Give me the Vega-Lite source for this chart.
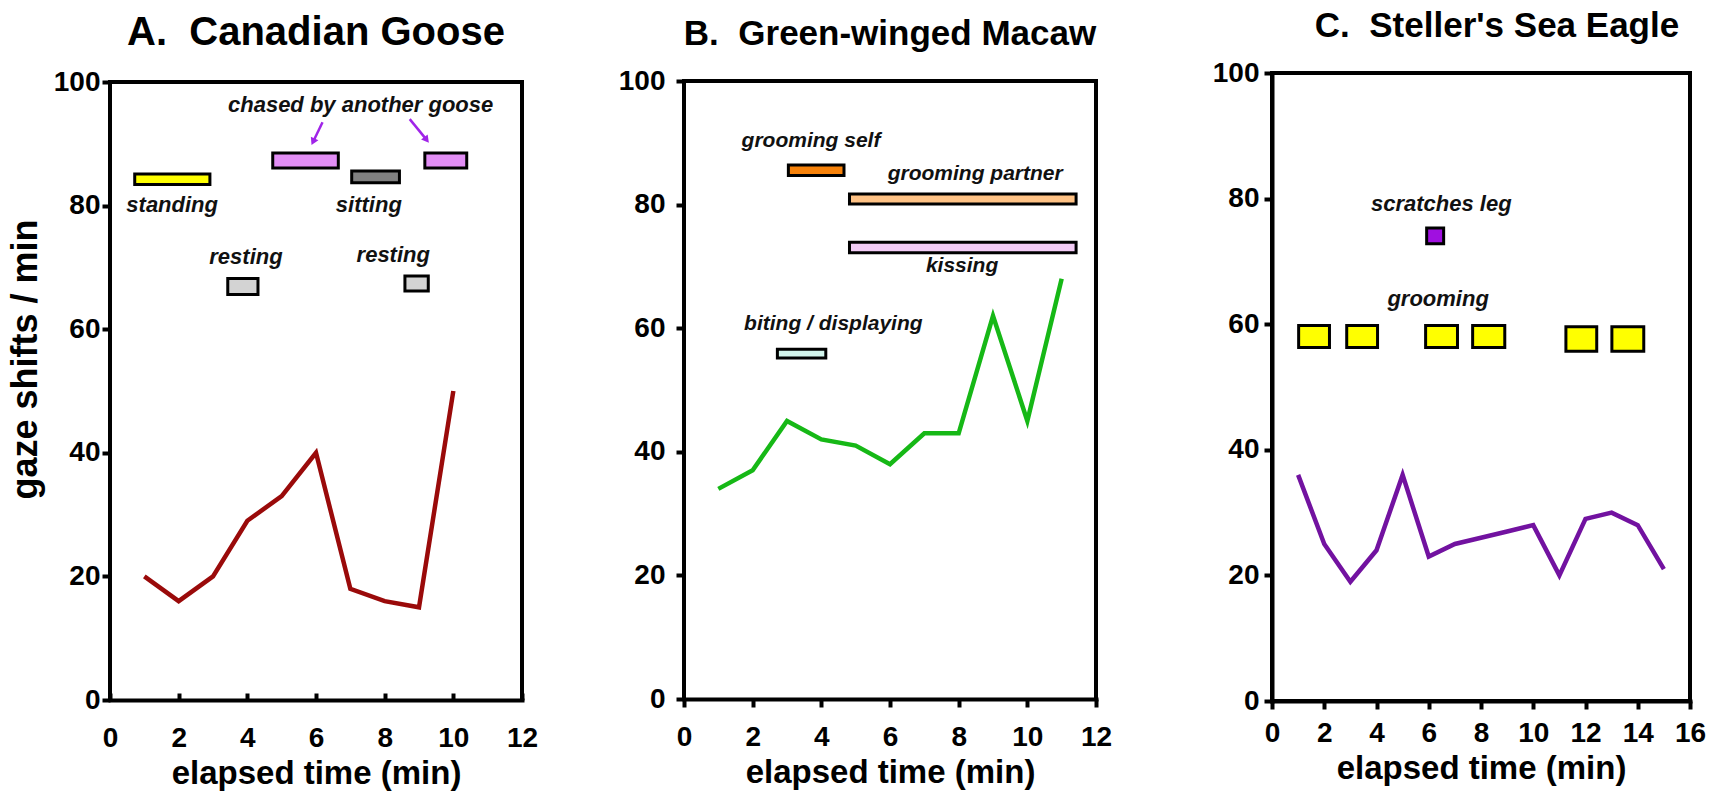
{
  "$schema": "https://vega.github.io/schema/vega-lite/v6.json",
  "background": "white",
  "padding": {"left": 7, "top": 7, "right": 5, "bottom": 5},
  "config": {
    "view": {"stroke": "black", "strokeWidth": 4},
    "font": "Liberation Sans",
    "axis": {
      "domainColor": "black", "domainWidth": 4, "domainCap": "square",
      "tickColor": "black", "tickWidth": 4, "tickSize": 8,
      "labelFont": "Liberation Sans", "labelFontSize": 28, "labelFontWeight": "bold", "labelColor": "black",
      "titleFont": "Liberation Sans", "titleFontSize": 33, "titleFontWeight": "bold", "titleColor": "black",
      "grid": false, "labelOverlap": false, "labelFlush": false
    },
    "title": {"font": "Liberation Sans", "fontWeight": "bold", "color": "black", "anchor": "middle", "frame": "group"}
  },
  "datasets": {
    "frame_12": [
      {"x": 0, "y": 100, "x2": 12, "y2": 100},
      {"x": 12, "y": 0, "x2": 12, "y2": 100},
      {"x": 0, "y": 0, "x2": 0, "y2": 100}
    ],
    "goose_line": [
      {"t": 1, "v": 20}, {"t": 2, "v": 16}, {"t": 3, "v": 20}, {"t": 4, "v": 29}, {"t": 5, "v": 33},
      {"t": 6, "v": 40}, {"t": 7, "v": 18}, {"t": 8, "v": 16}, {"t": 9, "v": 15}, {"t": 10, "v": 50}
    ],
    "goose_acts": [
      {"activity": "standing", "x1": 0.72, "x2": 2.91, "y1": 83.4, "y2": 85.1},
      {"activity": "chased by another goose", "x1": 4.74, "x2": 6.65, "y1": 86.1, "y2": 88.5},
      {"activity": "sitting", "x1": 7.04, "x2": 8.43, "y1": 83.7, "y2": 85.6},
      {"activity": "chased by another goose", "x1": 9.17, "x2": 10.39, "y1": 86.1, "y2": 88.5},
      {"activity": "resting", "x1": 3.43, "x2": 4.31, "y1": 65.6, "y2": 68.2},
      {"activity": "resting", "x1": 8.59, "x2": 9.27, "y1": 66.2, "y2": 68.6}
    ],
    "goose_labels": [
      {"label": "chased by another goose", "x": 7.3, "y": 96.3},
      {"label": "standing", "x": 1.81, "y": 80.1},
      {"label": "sitting", "x": 7.54, "y": 80.1},
      {"label": "resting", "x": 3.96, "y": 71.7},
      {"label": "resting", "x": 8.25, "y": 72.0}
    ],
    "goose_arrows": [
      {"arrow": "1", "x": 6.19, "y": 93.5, "x2": 5.93, "y2": 90.5},
      {"arrow": "2", "x": 8.73, "y": 94.0, "x2": 9.2, "y2": 90.8}
    ],
    "macaw_line": [
      {"t": 1, "v": 34}, {"t": 2, "v": 37}, {"t": 3, "v": 45}, {"t": 4, "v": 42}, {"t": 5, "v": 41},
      {"t": 6, "v": 38}, {"t": 7, "v": 43}, {"t": 8, "v": 43}, {"t": 9, "v": 62}, {"t": 10, "v": 45}, {"t": 11, "v": 68}
    ],
    "macaw_acts": [
      {"activity": "grooming self", "x1": 3.04, "x2": 4.66, "y1": 84.7, "y2": 86.4},
      {"activity": "grooming partner", "x1": 4.82, "x2": 11.42, "y1": 80.1, "y2": 81.7},
      {"activity": "kissing", "x1": 4.82, "x2": 11.42, "y1": 72.2, "y2": 73.9},
      {"activity": "biting / displaying", "x1": 2.72, "x2": 4.13, "y1": 55.2, "y2": 56.6}
    ],
    "macaw_labels": [
      {"label": "grooming self", "x": 3.7, "y": 90.3},
      {"label": "grooming partner", "x": 8.48, "y": 85.0},
      {"label": "kissing", "x": 8.1, "y": 70.0},
      {"label": "biting / displaying", "x": 4.35, "y": 60.7}
    ],
    "eagle_line": [
      {"t": 1, "v": 36}, {"t": 2, "v": 25}, {"t": 3, "v": 19}, {"t": 4, "v": 24}, {"t": 5, "v": 36},
      {"t": 6, "v": 23}, {"t": 7, "v": 25}, {"t": 8, "v": 26}, {"t": 9, "v": 27}, {"t": 10, "v": 28},
      {"t": 11, "v": 20}, {"t": 12, "v": 29}, {"t": 13, "v": 30}, {"t": 14, "v": 28}, {"t": 15, "v": 21}
    ],
    "eagle_acts": [
      {"activity": "scratches leg", "x1": 5.92, "x2": 6.57, "y1": 72.8, "y2": 75.3},
      {"activity": "grooming", "x1": 1.02, "x2": 2.2, "y1": 56.3, "y2": 59.8},
      {"activity": "grooming", "x1": 2.86, "x2": 4.04, "y1": 56.3, "y2": 59.8},
      {"activity": "grooming", "x1": 5.88, "x2": 7.1, "y1": 56.3, "y2": 59.8},
      {"activity": "grooming", "x1": 7.68, "x2": 8.91, "y1": 56.3, "y2": 59.8},
      {"activity": "grooming", "x1": 11.25, "x2": 12.43, "y1": 55.7, "y2": 59.6},
      {"activity": "grooming", "x1": 13.01, "x2": 14.23, "y1": 55.7, "y2": 59.6}
    ],
    "eagle_labels": [
      {"label": "scratches leg", "x": 6.48, "y": 79.1},
      {"label": "grooming", "x": 6.36, "y": 64.0}
    ]
  },
  "spacing": 98,
  "resolve": {"scale": {"fill": "independent"}},
  "hconcat": [
    {
      "spacing": 80,
      "resolve": {"scale": {"fill": "independent"}},
      "hconcat": [
        {
          "width": 412,
          "height": 627,
          "view": {"stroke": null},
          "title": {"text": "A.\u00a0 Canadian Goose", "fontSize": 40, "offset": 15, "dx": 0},
          "layer": [
            {
              "data": {"name": "frame_12"},
              "mark": {"type": "rule", "color": "black", "strokeWidth": 4, "strokeCap": "square"},
              "encoding": {
                "x": {"field": "x", "type": "quantitative", "title": "elapsed time (min)",
                      "scale": {"domain": [0, 12], "nice": false},
                      "axis": {"values": [0, 2, 4, 6, 8, 10, 12], "tickSize": -7, "labelPadding": 31, "titlePadding": 5}},
                "y": {"field": "y", "type": "quantitative", "title": "gaze shifts / min",
                      "scale": {"domain": [0, 101.46], "nice": false},
                      "axis": {"values": [0, 20, 40, 60, 80, 100], "domain": false, "labelPadding": 2, "titlePadding": 9, "titleFontSize": 36, "titleY": 286}},
                "x2": {"field": "x2"},
                "y2": {"field": "y2"}
              }
            },
            {
              "data": {"name": "goose_line"},
              "mark": {"type": "line", "color": "#9a0a0a", "strokeWidth": 4.5, "strokeJoin": "miter"},
              "encoding": {
                "x": {"field": "t", "type": "quantitative", "title": "elapsed time (min)"},
                "y": {"field": "v", "type": "quantitative", "title": "gaze shifts / min"}
              }
            },
            {
              "data": {"name": "goose_acts"},
              "mark": {"type": "rect", "stroke": "black", "strokeWidth": 3},
              "encoding": {
                "x": {"field": "x1", "type": "quantitative", "title": "elapsed time (min)"},
                "x2": {"field": "x2"},
                "y": {"field": "y1", "type": "quantitative", "title": "gaze shifts / min"},
                "y2": {"field": "y2"},
                "fill": {"field": "activity", "type": "nominal", "legend": null,
                         "scale": {"domain": ["standing", "chased by another goose", "sitting", "resting"],
                                   "range": ["#ffff00", "#e28ef5", "#808080", "#d3d3d3"]}}
              }
            },
            {
              "data": {"name": "goose_labels"},
              "mark": {"type": "text", "font": "Liberation Sans", "fontSize": 22, "fontWeight": "bold", "fontStyle": "italic", "color": "#111111"},
              "encoding": {
                "x": {"field": "x", "type": "quantitative", "title": "elapsed time (min)"},
                "y": {"field": "y", "type": "quantitative", "title": "gaze shifts / min"},
                "text": {"field": "label"}
              }
            },
            {
              "data": {"name": "goose_arrows"},
              "mark": {"type": "rule", "color": "#a024e8", "strokeWidth": 2.5},
              "encoding": {
                "x": {"field": "x", "type": "quantitative", "title": "elapsed time (min)"},
                "y": {"field": "y", "type": "quantitative", "title": "gaze shifts / min"},
                "x2": {"field": "x2"},
                "y2": {"field": "y2"}
              }
            },
            {
              "data": {"name": "goose_arrows"},
              "transform": [{"filter": "datum.arrow == '1'"}],
              "mark": {"type": "point", "shape": "triangle", "angle": 205.6, "filled": true, "size": 70, "color": "#a024e8", "opacity": 1},
              "encoding": {
                "x": {"field": "x2", "type": "quantitative", "title": "elapsed time (min)"},
                "y": {"field": "y2", "type": "quantitative", "title": "gaze shifts / min"}
              }
            },
            {
              "data": {"name": "goose_arrows"},
              "transform": [{"filter": "datum.arrow == '2'"}],
              "mark": {"type": "point", "shape": "triangle", "angle": 141.6, "filled": true, "size": 70, "color": "#a024e8", "opacity": 1},
              "encoding": {
                "x": {"field": "x2", "type": "quantitative", "title": "elapsed time (min)"},
                "y": {"field": "y2", "type": "quantitative", "title": "gaze shifts / min"}
              }
            }
          ]
        },
        {
          "width": 412,
          "height": 626,
          "view": {"stroke": null},
          "title": {"text": "B.\u00a0 Green-winged Macaw", "fontSize": 35, "offset": 15, "dx": 0},
          "layer": [
            {
              "data": {"name": "frame_12"},
              "mark": {"type": "rule", "color": "black", "strokeWidth": 4, "strokeCap": "square"},
              "encoding": {
                "x": {"field": "x", "type": "quantitative", "title": "elapsed time (min)",
                      "scale": {"domain": [0, 12], "nice": false},
                      "axis": {"values": [0, 2, 4, 6, 8, 10, 12], "labelPadding": 16, "titlePadding": 5}},
                "y": {"field": "y", "type": "quantitative", "title": null,
                      "scale": {"domain": [0, 101.3], "nice": false},
                      "axis": {"values": [0, 20, 40, 60, 80, 100], "domain": false, "labelPadding": 11}},
                "x2": {"field": "x2"},
                "y2": {"field": "y2"}
              }
            },
            {
              "data": {"name": "macaw_line"},
              "mark": {"type": "line", "color": "#16b816", "strokeWidth": 4.5, "strokeJoin": "miter"},
              "encoding": {
                "x": {"field": "t", "type": "quantitative", "title": "elapsed time (min)"},
                "y": {"field": "v", "type": "quantitative", "title": null}
              }
            },
            {
              "data": {"name": "macaw_acts"},
              "mark": {"type": "rect", "stroke": "black", "strokeWidth": 3},
              "encoding": {
                "x": {"field": "x1", "type": "quantitative", "title": "elapsed time (min)"},
                "x2": {"field": "x2"},
                "y": {"field": "y1", "type": "quantitative", "title": null},
                "y2": {"field": "y2"},
                "fill": {"field": "activity", "type": "nominal", "legend": null,
                         "scale": {"domain": ["grooming self", "grooming partner", "kissing", "biting / displaying"],
                                   "range": ["#f7820a", "#ffc285", "#f2cbf5", "#d2f5ec"]}}
              }
            },
            {
              "data": {"name": "macaw_labels"},
              "mark": {"type": "text", "font": "Liberation Sans", "fontSize": 21, "fontWeight": "bold", "fontStyle": "italic", "color": "#111111"},
              "encoding": {
                "x": {"field": "x", "type": "quantitative", "title": "elapsed time (min)"},
                "y": {"field": "y", "type": "quantitative", "title": null},
                "text": {"field": "label"}
              }
            }
          ]
        }
      ]
    },
    {
      "width": 418,
      "height": 628,
      "title": {"text": "C.\u00a0 Steller's Sea Eagle", "fontSize": 35, "offset": 15, "dx": 16},
      "layer": [
        {
          "data": {"name": "eagle_line"},
          "mark": {"type": "line", "color": "#7212a0", "strokeWidth": 4.5, "strokeJoin": "miter"},
          "encoding": {
            "x": {"field": "t", "type": "quantitative", "title": "elapsed time (min)",
                  "scale": {"domain": [0, 16], "nice": false},
                  "axis": {"values": [0, 2, 4, 6, 8, 10, 12, 14, 16], "labelPadding": 10, "titlePadding": 5}},
            "y": {"field": "v", "type": "quantitative", "title": null,
                  "scale": {"domain": [0, 100], "nice": false},
                  "axis": {"values": [0, 20, 40, 60, 80, 100], "labelPadding": 5}}
          }
        },
        {
          "data": {"name": "eagle_acts"},
          "mark": {"type": "rect", "stroke": "black", "strokeWidth": 3},
          "encoding": {
            "x": {"field": "x1", "type": "quantitative", "title": "elapsed time (min)"},
            "x2": {"field": "x2"},
            "y": {"field": "y1", "type": "quantitative", "title": null},
            "y2": {"field": "y2"},
            "fill": {"field": "activity", "type": "nominal", "legend": null,
                     "scale": {"domain": ["scratches leg", "grooming"], "range": ["#a010e0", "#ffff00"]}}
          }
        },
        {
          "data": {"name": "eagle_labels"},
          "mark": {"type": "text", "font": "Liberation Sans", "fontSize": 22, "fontWeight": "bold", "fontStyle": "italic", "color": "#111111"},
          "encoding": {
            "x": {"field": "x", "type": "quantitative", "title": "elapsed time (min)"},
            "y": {"field": "y", "type": "quantitative", "title": null},
            "text": {"field": "label"}
          }
        }
      ]
    }
  ]
}
